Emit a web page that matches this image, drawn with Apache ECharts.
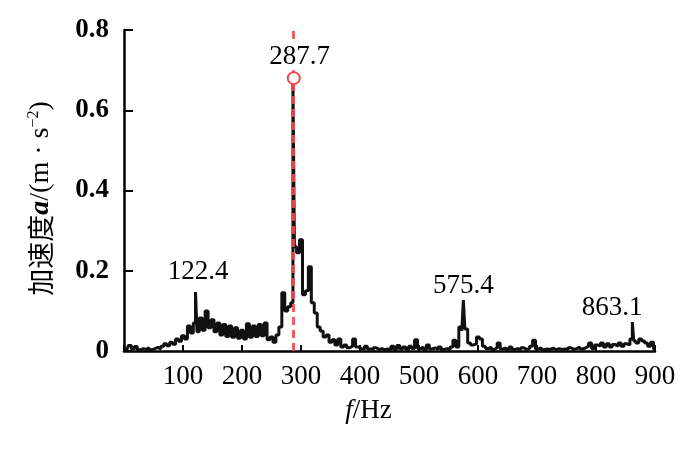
<!DOCTYPE html>
<html>
<head>
<meta charset="utf-8">
<script src="https://cdn.jsdelivr.net/npm/echarts@6/dist/echarts.min.js"></script>
<style>
  html, body { margin: 0; padding: 0; background: #fff; }
  #chart { width: 700px; height: 460px; }
</style>
</head>
<body>
<div id="chart"></div>
<script>
// spectrum sampled every 5 Hz, 0 … 900 Hz (one row = 50 Hz)
const FREQ_STEP = 5;
const amplitudes = [
  0.006, 0.004, 0.014, 0.005, 0.011, 0.003, 0.006, 0.004, 0.008, 0.003,
  0.006, 0.009, 0.005, 0.012, 0.018, 0.013, 0.022, 0.017, 0.030, 0.024,
  0.038, 0.030, 0.062, 0.045, 0.070, 0.048, 0.082, 0.052, 0.100, 0.058,
  0.078, 0.048, 0.070, 0.040, 0.066, 0.036, 0.062, 0.034, 0.058, 0.032,
  0.052, 0.030, 0.068, 0.034, 0.062, 0.036, 0.066, 0.038, 0.070, 0.028,
  0.035, 0.022, 0.040, 0.060, 0.145, 0.100, 0.110, 0.120, 0.260, 0.245,
  0.277, 0.140, 0.150, 0.210, 0.120, 0.095, 0.060, 0.050, 0.035, 0.040,
  0.022, 0.028, 0.015, 0.030, 0.010, 0.015, 0.008, 0.012, 0.030, 0.010,
  0.006, 0.004, 0.012, 0.005, 0.003, 0.008, 0.004, 0.006, 0.003, 0.005,
  0.002, 0.012, 0.004, 0.014, 0.005, 0.010, 0.004, 0.012, 0.006, 0.028,
  0.006, 0.010, 0.004, 0.015, 0.005, 0.008, 0.004, 0.010, 0.004, 0.006,
  0.003, 0.010, 0.027, 0.010, 0.060, 0.050, 0.055, 0.020, 0.015, 0.018,
  0.035, 0.030, 0.012, 0.006, 0.010, 0.004, 0.008, 0.020, 0.005, 0.008,
  0.003, 0.010, 0.004, 0.006, 0.003, 0.008, 0.004, 0.006, 0.012, 0.027,
  0.005, 0.008, 0.003, 0.005, 0.004, 0.007, 0.003, 0.006, 0.004, 0.005,
  0.003, 0.008, 0.004, 0.006, 0.010, 0.005, 0.008, 0.012, 0.020, 0.006,
  0.015, 0.012, 0.020, 0.010, 0.018, 0.010, 0.016, 0.012, 0.020, 0.012,
  0.018, 0.015, 0.030, 0.025, 0.020, 0.030, 0.025, 0.020, 0.012, 0.022,
  0.005
];

// marked peaks
const peakFreqs = [122.4, 287.7, 575.4, 863.1];
const peakAmps = [0.147, 0.68, 0.127, 0.072];
const mainPeak = 1;

const xTicks = { min: 0, max: 900, interval: 100 };
const yTicks = { min: 0, max: 0.8, interval: 0.2 };

const serif = "'Liberation Serif', 'Times New Roman', serif";
const ink = "#000";
const red = "#f04a4f";

const spectrum = amplitudes
  .map((a, i) => [i * FREQ_STEP, a])
  .concat(peakFreqs.map((f, i) => [f, peakAmps[i]]))
  .sort((p, q) => p[0] - q[0]);

// label placement per peak (offset from the peak top)
const labelOffsets = [[2, -6], [6, 0], [0, 0], [-21, 0]];

const chart = echarts.init(document.getElementById("chart"), null, { renderer: "canvas" });
chart.setOption({
  animation: false,
  backgroundColor: "#fff",
  grid: { left: 124, right: 45, top: 30, bottom: 109 },
  xAxis: {
    type: "value",
    min: xTicks.min,
    max: xTicks.max,
    interval: xTicks.interval,
    name: "{i|f}/Hz",
    nameLocation: "middle",
    nameGap: 46,
    nameTextStyle: {
      fontFamily: serif, fontSize: 27, color: ink, padding: [0, 42, 0, 0],
      rich: { i: { fontFamily: serif, fontSize: 27, fontStyle: "italic", color: ink } },
    },
    axisLine: { lineStyle: { color: ink, width: 2.5 } },
    axisTick: { inside: true, length: 6, lineStyle: { color: ink, width: 2 } },
    axisLabel: {
      fontFamily: serif, fontSize: 27, color: ink, margin: 12,
      formatter: (v) => (v === 0 ? "" : String(v)),
    },
    splitLine: { show: false },
  },
  yAxis: {
    type: "value",
    min: yTicks.min,
    max: yTicks.max,
    interval: yTicks.interval,
    name: "{zh|加速度}{i|a}{t|/(m · s}{sup|−2}{t|)}",
    nameLocation: "middle",
    nameGap: 68,
    nameTextStyle: {
      color: ink,
      padding: [0, 16, 0, 0],
      rich: {
        zh: { fontFamily: "'Noto Sans CJK SC'", fontSize: 27, color: ink, lineHeight: 30 },
        i: { fontFamily: serif, fontSize: 28, fontStyle: "italic", fontWeight: "bold", color: ink, lineHeight: 30 },
        t: { fontFamily: serif, fontSize: 28, color: ink, lineHeight: 30 },
        sup: { fontFamily: serif, fontSize: 16, color: ink, lineHeight: 16, verticalAlign: "top" },
      },
    },
    axisLine: { lineStyle: { color: ink, width: 2.5 } },
    axisTick: { inside: true, length: 9, lineStyle: { color: ink, width: 2 } },
    axisLabel: {
      fontFamily: serif, fontSize: 27, fontWeight: "bold", color: ink, margin: 15,
      formatter: (v) => (v === 0 ? "0" : v.toFixed(1)),
    },
    splitLine: { show: false },
  },
  series: [
    {
      type: "line",
      data: spectrum,
      step: "middle",
      symbol: "none",
      lineStyle: { color: "#111", width: 3 },
      z: 2,
    },
    {
      type: "scatter",
      z: 5,
      data: peakFreqs.map((f, i) => ({
        value: [f, peakAmps[i]],
        symbol: i === mainPeak ? "emptyCircle" : "circle",
        symbolSize: i === mainPeak ? 12 : 1,
        itemStyle: i === mainPeak
          ? { color: red, borderColor: red, borderWidth: 2.5, opacity: 1 }
          : { color: "rgba(0,0,0,0)" },
        label: {
          show: true,
          position: "top",
          distance: i === mainPeak ? 1 : 0,
          offset: labelOffsets[i],
          formatter: () => f.toFixed(1),
          fontFamily: serif,
          fontSize: 27,
          color: ink,
          opacity: 1,
          backgroundColor: i === mainPeak ? "#fff" : "transparent",
          padding: [0, 2],
        },
      })),
      markLine: {
        silent: true,
        symbol: "none",
        label: { show: false },
        lineStyle: { color: red, width: 3, type: [8, 5], opacity: 0.9 },
        data: [{ xAxis: peakFreqs[mainPeak] }],
      },
    },
  ],
});
</script>
</body>
</html>
